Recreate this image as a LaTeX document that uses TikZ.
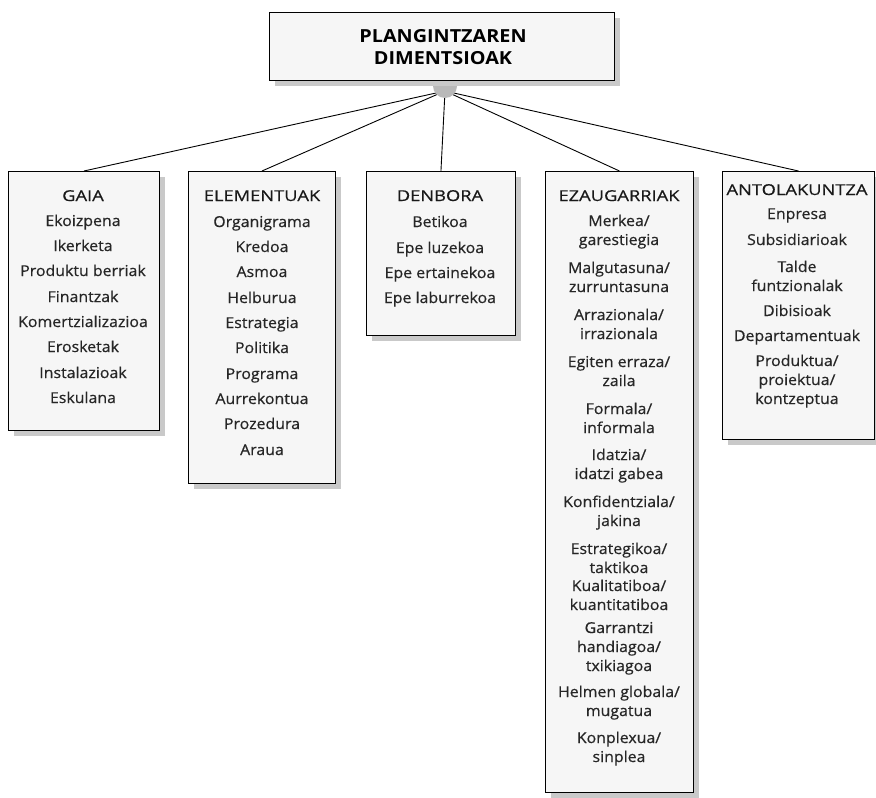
\documentclass[tikz,border=0pt]{standalone}
\usepackage{fontspec}
\setmainfont{Open Sans}
\newfontfamily\itemfont[FakeStretch=1.06, FakeBold=0.5]{Open Sans}
\newfontfamily\headfont[FakeStretch=1.22, FakeBold=0.5]{Open Sans}
\newfontfamily\titlefont[FakeStretch=1.1]{Open Sans}
\usetikzlibrary{shadows}
\tikzset{
  panel/.style={draw=black, line width=0.9pt, fill=gray!7, anchor=north west,
    inner sep=0pt,
    general shadow={fill=gray!42, shadow xshift=6pt, shadow yshift=-6pt}},
  % multi-line nodes are placed by the baseline of their last line
  item/.style={font=\itemfont\fontsize{15}{19}\selectfont, align=center,
    inner sep=0pt, anchor=base, text=black!85},
  head/.style={font=\headfont\fontsize{15}{19}\selectfont, inner sep=0pt, anchor=base,
    text=black!90},
  title/.style={font=\titlefont\fontsize{18}{22}\selectfont\bfseries, align=center,
    inner sep=0pt, anchor=base},
  link/.style={line width=0.9pt},
}
\begin{document}
\begin{tikzpicture}[x=1pt,y=-1pt]
\useasboundingbox (0,0) rectangle (876,798);

% top panel
\node[panel, minimum width=345pt, minimum height=68pt] (top) at (269,12) {};
\node[title] (ttl) at (443,64) {PLANGINTZAREN\\DIMENTSIOAK};

% category panels
\node[panel, minimum width=151pt, minimum height=259pt] (gaia) at (8,171) {};
\node[panel, minimum width=147pt, minimum height=312pt] (elem) at (188,171) {};
\node[panel, minimum width=149pt, minimum height=164pt] (denb) at (366,171) {};
\node[panel, minimum width=148pt, minimum height=621pt] (ezau) at (545,171) {};
\node[panel, minimum width=152pt, minimum height=268pt] (anto) at (722,171) {};

% connectors from the hub
\coordinate (hubc) at (445,91);
\foreach \b in {gaia,elem,denb,ezau,anto}
  \draw[link] (hubc) -- (\b.north);
\fill[gray!55] (433,86) arc[start angle=180, end angle=0, radius=12] -- cycle;

% GAIA
\node[head] (g0) at (83,201) {GAIA};
\node[item] (g1) at (83,226) {Ekoizpena};
\node[item] (g2) at (83,251) {Ikerketa};
\node[item] (g3) at (83,276) {Produktu berriak};
\node[item] (g4) at (83,302) {Finantzak};
\node[item] (g5) at (83,327) {Komertzializazioa};
\node[item] (g6) at (83,352) {Erosketak};
\node[item] (g7) at (83,378) {Instalazioak};
\node[item] (g8) at (83,403) {Eskulana};

% ELEMENTUAK
\node[head] (e0) at (262,201) {ELEMENTUAK};
\node[item] (e1) at (262,227) {Organigrama};
\node[item] (e2) at (262,252) {Kredoa};
\node[item] (e3) at (262,277) {Asmoa};
\node[item] (e4) at (262,303) {Helburua};
\node[item] (e5) at (262,328) {Estrategia};
\node[item] (e6) at (262,353) {Politika};
\node[item] (e7) at (262,379) {Programa};
\node[item] (e8) at (262,404) {Aurrekontua};
\node[item] (e9) at (262,429) {Prozedura};
\node[item] (e10) at (262,455) {Araua};

% DENBORA
\node[head] (d0) at (440,201) {DENBORA};
\node[item] (d1) at (440,227) {Betikoa};
\node[item] (d2) at (440,253) {Epe luzekoa};
\node[item] (d3) at (440,278) {Epe ertainekoa};
\node[item] (d4) at (440,303) {Epe laburrekoa};

% EZAUGARRIAK
\node[head] (z0) at (619,201) {EZAUGARRIAK};
\node[item] (z1) at (619,245) {Merkea/\\garestiegia};
\node[item] (z2) at (619,292) {Malgutasuna/\\zurruntasuna};
\node[item] (z3) at (619,339) {Arrazionala/\\irrazionala};
\node[item] (z4) at (619,386) {Egiten erraza/\\zaila};
\node[item] (z5) at (619,433) {Formala/\\informala};
\node[item] (z6) at (619,479) {Idatzia/\\idatzi gabea};
\node[item] (z7) at (619,526) {Konfidentziala/\\jakina};
\node[item] (z8) at (619,573) {Estrategikoa/\\taktikoa};
\node[item] (z9) at (619,610) {Kualitatiboa/\\kuantitatiboa};
\node[item] (z10) at (619,671) {Garrantzi\\handiagoa/\\txikiagoa};
\node[item] (z11) at (619,716) {Helmen globala/\\mugatua};
\node[item] (z12) at (619,762) {Konplexua/\\sinplea};

% ANTOLAKUNTZA
\node[head] (a0) at (797,195) {ANTOLAKUNTZA};
\node[item] (a1) at (797,219) {Enpresa};
\node[item] (a2) at (797,245) {Subsidiarioak};
\node[item] (a3) at (797,291) {Talde\\funtzionalak};
\node[item] (a4) at (797,316) {Dibisioak};
\node[item] (a5) at (797,341) {Departamentuak};
\node[item] (a6) at (797,404) {Produktua/\\proiektua/\\kontzeptua};
\end{tikzpicture}
\end{document}
